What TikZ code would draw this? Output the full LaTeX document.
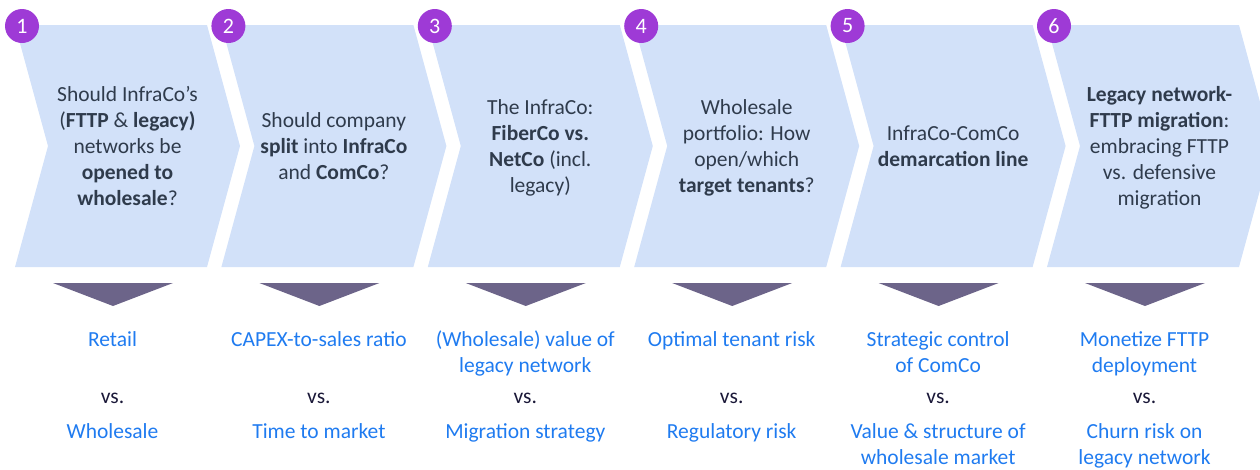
\documentclass[tikz,border=0pt]{standalone}
\usepackage{fontspec}
\setmainfont{Carlito}
\definecolor{chev}{HTML}{D2E1F9}
\definecolor{badge}{HTML}{9E3AD6}
\definecolor{tri}{HTML}{6C6489}
\definecolor{qtext}{HTML}{2F3B4C}
\definecolor{btext}{HTML}{1F7BF0}
\definecolor{vstext}{HTML}{1A1838}
\tikzset{
  chevbox/.style={fill=chev, draw=none},
  badgenode/.style={circle, fill=badge, minimum size=34pt, inner sep=0pt, text=white, font=\fontsize{22}{24}\selectfont},
  tribox/.style={fill=tri, draw=none},
  qnode/.style={align=center, inner sep=0pt, text=qtext, font=\fontsize{21.5}{26}\selectfont},
  bnode/.style={align=center, inner sep=0pt, anchor=north, text=btext, font=\fontsize{21.5}{26}\selectfont},
  vsnode/.style={inner sep=0pt, anchor=base, text=vstext, font=\fontsize{21.5}{26}\selectfont},
}
\begin{document}
\begin{tikzpicture}[x=1pt,y=-1pt]
\useasboundingbox (0,0) rectangle (1260,469);
\clip (0,0) rectangle (1260,469);
\foreach \i in {0,...,5}{
  \pgfmathsetmacro{\xo}{15+206.4*\i}
  \fill[chevbox] (\xo,25) -- (\xo+192,25) -- (\xo+225,146) -- (\xo+192,267) -- (\xo,267) -- (\xo+33,146) -- cycle;
  \fill[tribox] (\xo+38,283) -- (\xo+158,283) -- (\xo+98,306) -- cycle;
}
\foreach \i in {0,...,5}{
  \pgfmathsetmacro{\xo}{15+206.4*\i}
  \pgfmathtruncatemacro{\n}{\i+1}
  \node[badgenode] (b\n) at (\xo+7,26) {\n};
}
% question texts
\node[qnode] (q1) at (127.5,148) {\strut Should InfraCo’s\\(\textbf{FTTP} \& \textbf{legacy)}\\networks be\\\textbf{opened to}\\\textbf{wholesale}?\strut};
\node[qnode] (q2) at (333.9,148) {\strut Should company\\\textbf{split} into \textbf{InfraCo}\\and \textbf{ComCo}?\strut};
\node[qnode] (q3) at (540.3,148) {\strut The InfraCo:\\\textbf{FiberCo vs.}\\\textbf{NetCo} (incl.\\legacy)\strut};
\node[qnode] (q4) at (746.7,148) {\strut Wholesale\\portfolio: How\\open/which\\\textbf{target tenants}?\strut};
\node[qnode] (q5) at (953.1,148) {\strut InfraCo-ComCo\\\textbf{demarcation line}\strut};
\node[qnode] (q6) at (1159.5,148) {\strut\textbf{Legacy network-}\\\textbf{FTTP migration}:\\embracing FTTP\\vs. defensive\\migration\strut};
% bottom texts
\foreach \i/\top/\bot in {
  0/{Retail}/{Wholesale},
  1/{CAPEX-to-sales ratio}/{Time to market},
  2/{(Wholesale) value of\\legacy network}/{Migration strategy},
  3/{Optimal tenant risk}/{Regulatory risk},
  4/{Strategic control\\of ComCo}/{Value \& structure of\\wholesale market},
  5/{Monetize FTTP\\deployment}/{Churn risk on\\legacy network}}{
  \pgfmathsetmacro{\xc}{112.5+206.4*\i}
  \pgfmathtruncatemacro{\n}{\i+1}
  \node[bnode] (t\n) at (\xc,327.8) {\strut\top};
  \node[vsnode] (v\n) at (\xc,403) {vs.};
  \node[bnode] (u\n) at (\xc,419.6) {\strut\bot};
}
\end{tikzpicture}
\end{document}
